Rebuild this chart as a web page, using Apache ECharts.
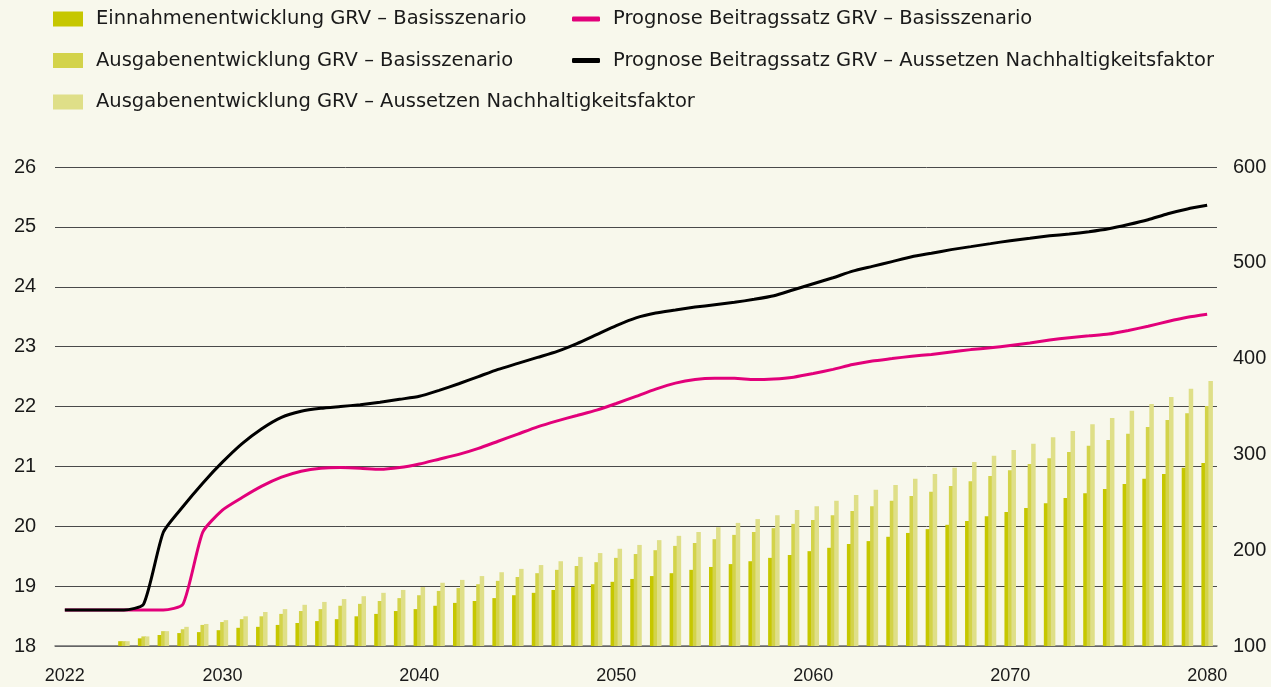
<!DOCTYPE html>
<html>
<head>
<meta charset="utf-8">
<script src="https://cdn.jsdelivr.net/npm/echarts@6/dist/echarts.min.js"></script>
<style>
  html, body { margin: 0; padding: 0; background: #f8f8ec; }
  #chart { width: 1271px; height: 687px; }
</style>
</head>
<body>
<div id="chart"></div>
<script>
  // Jahre 2022 - 2080
  var years = ['2022','2023','2024','2025','2026','2027','2028','2029','2030','2031',
    '2032','2033','2034','2035','2036','2037','2038','2039','2040','2041',
    '2042','2043','2044','2045','2046','2047','2048','2049','2050','2051',
    '2052','2053','2054','2055','2056','2057','2058','2059','2060','2061',
    '2062','2063','2064','2065','2066','2067','2068','2069','2070','2071',
    '2072','2073','2074','2075','2076','2077','2078','2079','2080'];

  var labelYears = ['2022', '2030', '2040', '2050', '2060', '2070', '2080'];

  // rechte Achse (Mrd. Euro)
  var einnahmenBasis = [null, null, null, 105, 108, 111.5, 113.5, 114.5, 116.5, 119,
    120, 122, 124, 126, 128, 131, 133.5, 136.5, 138.5, 142,
    145, 147, 150, 153, 155.5, 158.5, 161.5, 164.5, 167, 170,
    173, 176, 179.5, 182.5, 185.5, 188.5, 192, 195, 199, 202.5,
    206.5, 209.5, 214, 218, 222, 226.5, 230.5, 235.5, 240, 244,
    249, 254.5, 259.5, 264, 269, 274.5, 279.5, 286, 291];

  var ausgabenBasis = [null, null, null, 105, 110, 115.5, 117.5, 122, 125, 128,
    131, 133.5, 136.5, 138.5, 142, 144, 147, 150, 153, 157.5,
    160.5, 164.5, 168, 172, 176, 179.5, 183.5, 187.5, 192, 196,
    200, 204.5, 207.5, 211.5, 216, 219, 223, 227.5, 231.5, 236.5,
    241, 246, 251.5, 256.5, 261, 267, 272, 277.5, 283.5, 290,
    296, 302.5, 309, 315, 321.5, 328.5, 336, 343, 350.5];

  var ausgabenAussetzen = [null, null, null, 105, 110, 115.5, 120, 123, 127, 131,
    135.5, 138.5, 143, 146, 149, 152, 155.5, 158.5, 161.5, 166,
    169, 173, 177, 180.5, 184.5, 188.5, 193, 197, 201.5, 205.5,
    210.5, 215, 219, 224, 228.5, 232.5, 236.5, 242, 246, 251.5,
    257.5, 263, 268, 274.5, 279.5, 286, 292, 298.5, 304.5, 311,
    318, 324.5, 331.5, 338, 345.5, 352.5, 360, 368.5, 376.5];

  // linke Achse (Beitragssatz in %)
  var beitragBasis = [18.6, 18.6, 18.6, 18.6, 18.6, 18.6, 18.7, 19.9, 20.27, 20.48,
    20.67, 20.82, 20.92, 20.97, 20.98, 20.97, 20.95, 20.98, 21.04, 21.12,
    21.2, 21.3, 21.42, 21.54, 21.66, 21.76, 21.85, 21.94, 22.05, 22.17,
    22.29, 22.39, 22.45, 22.47, 22.47, 22.45, 22.46, 22.49, 22.55, 22.62,
    22.7, 22.76, 22.8, 22.84, 22.87, 22.91, 22.95, 22.98, 23.02, 23.06,
    23.11, 23.15, 23.18, 23.21, 23.27, 23.34, 23.42, 23.49, 23.54];

  var beitragAussetzen = [18.6, 18.6, 18.6, 18.6, 18.7, 19.9, 20.33, 20.72, 21.07, 21.38,
    21.63, 21.82, 21.92, 21.97, 22.0, 22.03, 22.07, 22.12, 22.17, 22.27,
    22.38, 22.5, 22.62, 22.72, 22.82, 22.92, 23.05, 23.2, 23.35, 23.48,
    23.56, 23.61, 23.66, 23.7, 23.74, 23.79, 23.85, 23.95, 24.05, 24.15,
    24.26, 24.34, 24.42, 24.5, 24.56, 24.62, 24.67, 24.72, 24.77, 24.81,
    24.85, 24.88, 24.92, 24.97, 25.04, 25.12, 25.22, 25.3, 25.36];

  var FONT = 'Liberation Sans';
  var TXT = '#1a1a1a';

  var chart = echarts.init(document.getElementById('chart'));

  function barSeries(name, data, color) {
    return {
      name: name,
      type: 'bar',
      yAxisIndex: 1,
      data: data,
      barWidth: 4.5,
      barGap: '-22%',
      itemStyle: { color: color },
      silent: true
    };
  }

  function lineSeries(name, data, color) {
    return {
      name: name,
      type: 'line',
      yAxisIndex: 0,
      data: data,
      symbol: 'none',
      smooth: 0.2,
      lineStyle: { color: color, width: 3 },
      itemStyle: { color: color },
      z: 5
    };
  }

  var legendText = {
    fontFamily: 'DejaVu Sans', fontSize: 19.5, color: TXT, lineHeight: 20,
    padding: [0, 0, 0, 8]
  };

  chart.setOption({
    backgroundColor: '#f8f8ec',
    animation: false,
    legend: [{
      orient: 'vertical',
      left: 53,
      top: 9,
      padding: 0,
      itemWidth: 30,
      itemHeight: 15,
      itemGap: 21.5,
      icon: 'rect',
      textStyle: legendText,
      data: ['Einnahmenentwicklung GRV – Basisszenario',
        'Ausgabenentwicklung GRV – Basisszenario',
        'Ausgabenentwicklung GRV – Aussetzen Nachhaltigkeitsfaktor']
    }, {
      orient: 'vertical',
      left: 572,
      top: 9,
      padding: 0,
      itemWidth: 28,
      itemHeight: 5,
      itemGap: 21.5,
      icon: 'roundRect',
      textStyle: legendText,
      data: ['Prognose Beitragssatz GRV – Basisszenario',
        'Prognose Beitragssatz GRV – Aussetzen Nachhaltigkeitsfaktor']
    }],
    grid: { left: 55, right: 54, top: 167, bottom: 41 },
    xAxis: {
      type: 'category',
      data: years,
      axisLine: { lineStyle: { color: '#6e6e6e', width: 1.5 } },
      axisTick: { show: false },
      axisLabel: {
        interval: function (i, v) { return labelYears.indexOf(v) >= 0; },
        fontFamily: FONT, fontSize: 18, color: TXT, margin: 21
      }
    },
    yAxis: [{
      type: 'value',
      min: 18, max: 26, interval: 1,
      axisLine: { show: false },
      axisTick: { show: false },
      axisLabel: { fontFamily: FONT, fontSize: 20, color: TXT, align: 'left', margin: 41 },
      splitLine: { lineStyle: { color: '#4a4a4a', width: 1 } }
    }, {
      type: 'value',
      min: 100, max: 600, interval: 100,
      position: 'right',
      axisLine: { show: false },
      axisTick: { show: false },
      axisLabel: { fontFamily: FONT, fontSize: 20, color: TXT, margin: 16 },
      splitLine: { show: false }
    }],
    series: [
      barSeries('Einnahmenentwicklung GRV – Basisszenario', einnahmenBasis, '#c6c700'),
      barSeries('Ausgabenentwicklung GRV – Basisszenario', ausgabenBasis, '#d3d34a'),
      barSeries('Ausgabenentwicklung GRV – Aussetzen Nachhaltigkeitsfaktor', ausgabenAussetzen, '#dfdf88'),
      lineSeries('Prognose Beitragssatz GRV – Basisszenario', beitragBasis, '#e2007a'),
      lineSeries('Prognose Beitragssatz GRV – Aussetzen Nachhaltigkeitsfaktor', beitragAussetzen, '#000000')
    ]
  });
</script>
</body>
</html>
